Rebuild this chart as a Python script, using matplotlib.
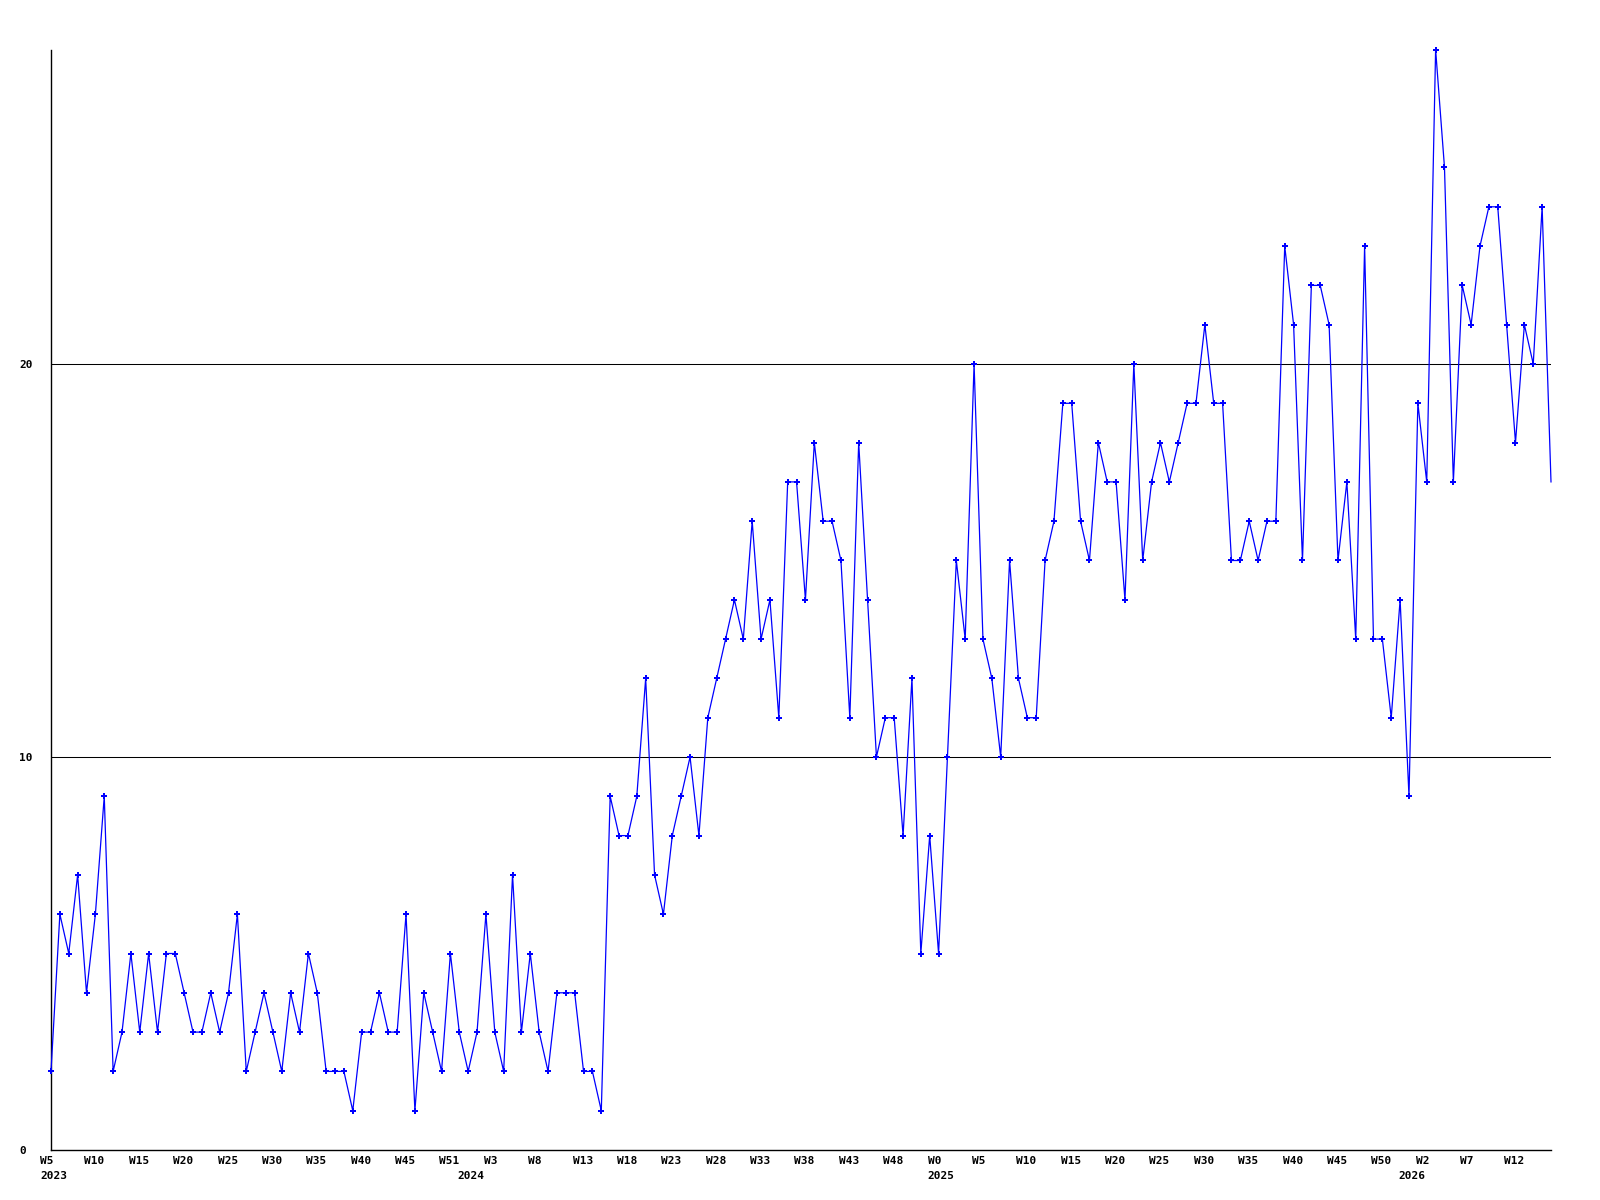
import matplotlib
matplotlib.use('Agg')
import matplotlib.pyplot as plt
import matplotlib.transforms as mtransforms

# weekly counts, 2023 W5 .. 2026 W15
values = [2, 6, 5, 7, 4, 6, 9, 2, 3, 5, 3, 5, 3, 5, 5, 4, 3, 3, 4, 3, 4, 6, 2, 3, 4,
          3, 2, 4, 3, 5, 4, 2, 2, 2, 1, 3, 3, 4, 3, 3, 6, 1, 4, 3, 2, 5, 3, 2, 3, 6,
          3, 2, 7, 3, 5, 3, 2, 4, 4, 4, 2, 2, 1, 9, 8, 8, 9, 12, 7, 6, 8, 9, 10, 8, 11,
          12, 13, 14, 13, 16, 13, 14, 11, 17, 17, 14, 18, 16, 16, 15, 11, 18, 14, 10, 11, 11, 8, 12, 5, 8,
          5, 10, 15, 13, 20, 13, 12, 10, 15, 12, 11, 11, 15, 16, 19, 19, 16, 15, 18, 17, 17, 14, 20, 15, 17,
          18, 17, 18, 19, 19, 21, 19, 19, 15, 15, 16, 15, 16, 16, 23, 21, 15, 22, 22, 21, 15, 17, 13, 23, 13,
          13, 11, 14, 9, 19, 17, 28, 25, 17, 22, 21, 23, 24, 24, 21, 18, 21, 20, 24, 17]
weeks = list(range(len(values)))

week_labels = ['W5', 'W10', 'W15', 'W20', 'W25', 'W30', 'W35', 'W40', 'W45', 'W51',
               'W3', 'W8', 'W13', 'W18', 'W23', 'W28', 'W33', 'W38', 'W43', 'W48',
               'W0', 'W5', 'W10', 'W15', 'W20', 'W25', 'W30', 'W35', 'W40', 'W45', 'W50',
               'W2', 'W7', 'W12']
week_label_pos = [5 * i for i in range(len(week_labels))]
year_labels = ['2023', '2024', '2025', '2026']
year_pos = [0, 47, 100, 153]
y_ticks = [0, 10, 20]

font = 'DejaVu Sans Mono'

fig = plt.figure(figsize=(16, 12), dpi=100)
ax = fig.add_axes([51 / 1600, 50 / 1200, 1500 / 1600, 1100.4 / 1200])

ax.plot(weeks, values, '-', color='#0000ff', linewidth=0.9,
        marker='P', markersize=4, markeredgewidth=0, markevery=slice(0, -1),
        zorder=3, clip_on=False)

ax.set_xlim(0, len(values) - 1)
ax.set_ylim(0, 28)

for s in ['top', 'right']:
    ax.spines[s].set_visible(False)
for s in ['left', 'bottom']:
    ax.spines[s].set_linewidth(1.0)
    ax.spines[s].set_color('black')

for v in y_ticks[1:]:
    ax.axhline(v, color='black', linewidth=0.75, zorder=1)

ax.set_yticks(y_ticks)
ax.set_yticklabels([str(v) for v in y_ticks])
ax.tick_params(axis='y', length=0, pad=23)
for lab in ax.get_yticklabels():
    lab.set_horizontalalignment('left')
    lab.set_fontfamily(font)
    lab.set_fontweight('bold')
    lab.set_fontsize(8)

ax.set_xticks([])
wk_tr = mtransforms.offset_copy(ax.get_xaxis_transform(), fig=fig, x=-11, y=-6, units='dots')
yr_tr = mtransforms.offset_copy(ax.get_xaxis_transform(), fig=fig, x=-11, y=-21, units='dots')
for p, lab in zip(week_label_pos, week_labels):
    ax.text(p, 0, lab, transform=wk_tr, ha='left', va='top',
            fontsize=8, fontweight='bold', family=font)
for p, lab in zip(year_pos, year_labels):
    ax.text(p, 0, lab, transform=yr_tr, ha='left', va='top',
            fontsize=8, fontweight='bold', family=font)

fig.savefig('out.png', dpi=100, facecolor='white')
